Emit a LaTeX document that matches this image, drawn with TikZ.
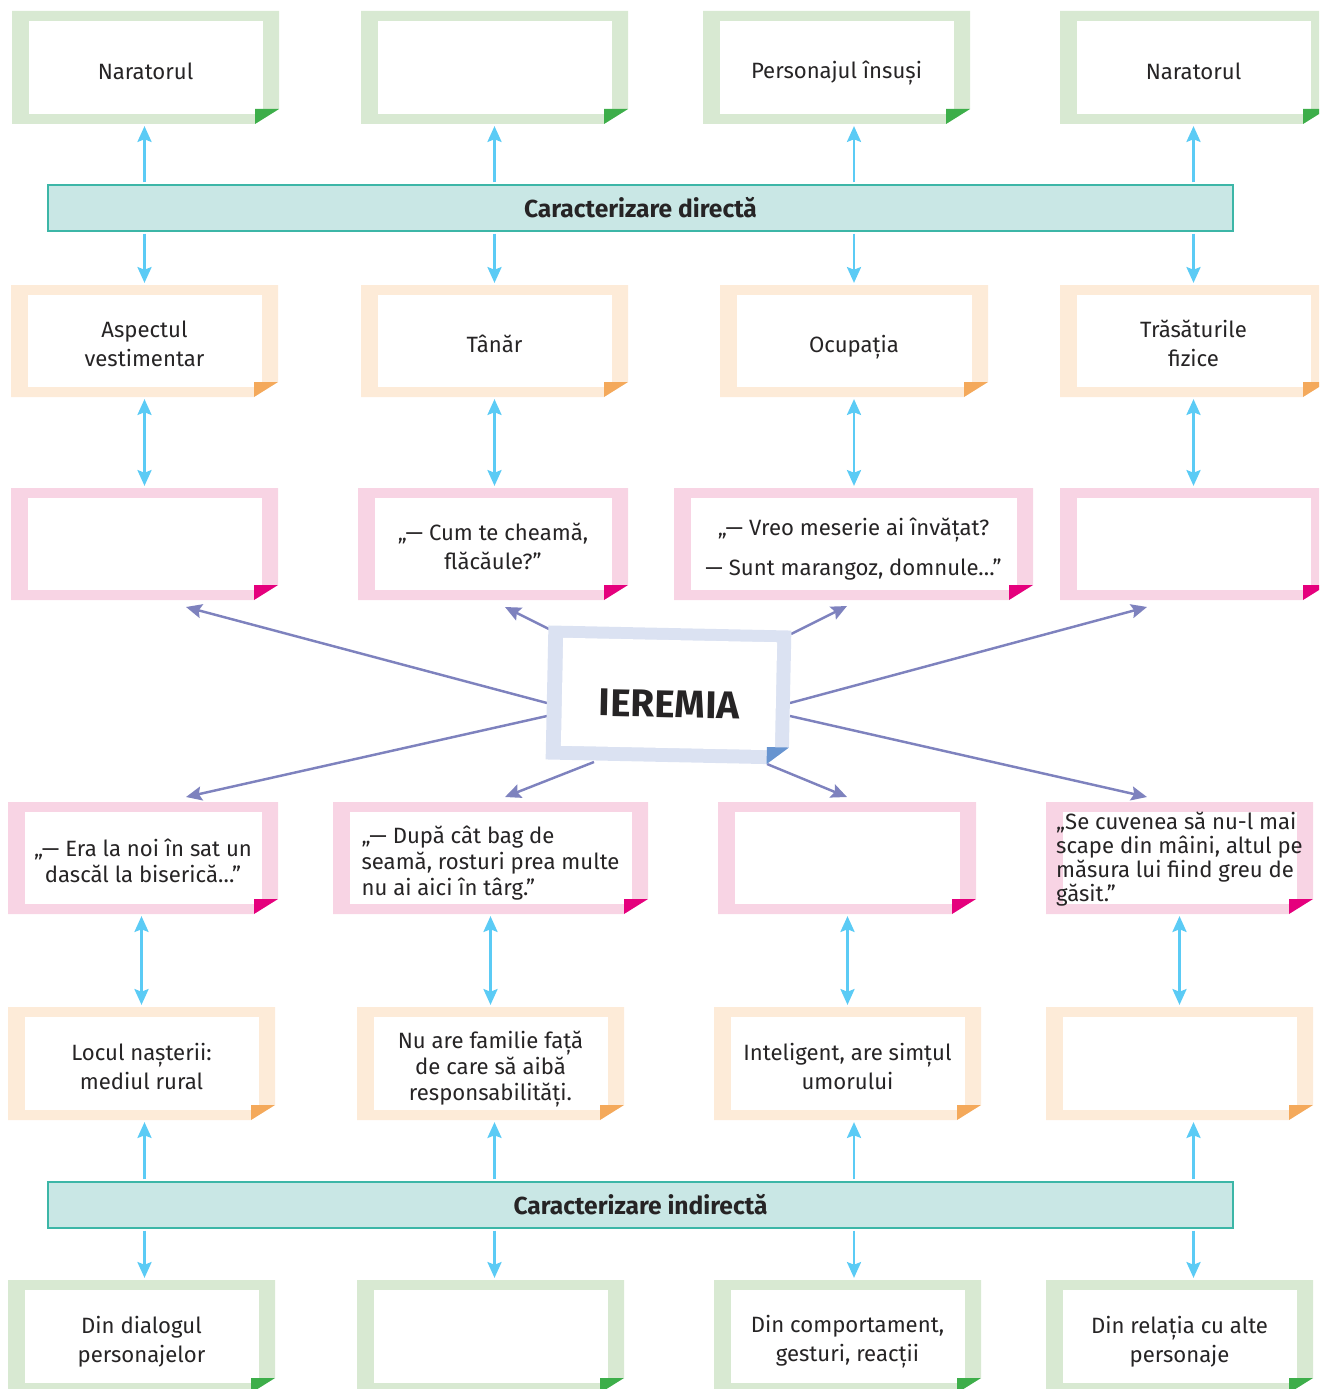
\documentclass[tikz,border=0pt]{standalone}
\usepackage{fontspec}
\setmainfont{Fira Sans}
\usetikzlibrary{arrows.meta}
\definecolor{grnlt}{HTML}{D8E9D2}
\definecolor{grndk}{HTML}{3DAE4A}
\definecolor{orglt}{HTML}{FDEBD8}
\definecolor{orgdk}{HTML}{F4A95B}
\definecolor{pnklt}{HTML}{F8D4E4}
\definecolor{pnkdk}{HTML}{E5007D}
\definecolor{blult}{HTML}{DBE2F2}
\definecolor{bludk}{HTML}{6794D0}
\definecolor{bandfill}{HTML}{C9E7E5}
\definecolor{bandline}{HTML}{3CB6A7}
\definecolor{skyline}{HTML}{5BCBF5}
\definecolor{lilac}{HTML}{7E82BE}
\definecolor{ink}{HTML}{262425}

\newcommand{\boxstrut}{\rule[-3.2pt]{0pt}{19.7pt}}

\tikzset{
    boxtext/.style={inner sep=0pt,align=center,text=ink,font=\fontsize{12.6}{16.4}\selectfont,
        execute at begin node=\boxstrut,execute at end node=\boxstrut},
    lines/.style={yshift=-3.1pt},
    band/.style={draw=bandline,line width=1pt,fill=bandfill,minimum width=23.7cm,
        minimum height=0.92cm,text=ink,font=\bfseries\fontsize{14}{16}\selectfont},
    skyarrow/.style={skyline,line width=1.5pt,shorten >=1pt,shorten <=1pt},
    lilacarrow/.style={lilac,line width=1.4pt,->},
}

% #2 name, (#3,#4) top left, (#5,#6) bottom right, #7 colour, #8 text
\newcommand{\notebox}[8][]{%
    \fill[#7lt] (#3,#4) -- (#5,#4) -- (#5,#6-15) -- (#5-24,#6) -- (#3,#6) -- cycle;
    \fill[white] (#3+17,#4+10) rectangle (#5-16,#6-10);
    \fill[#7dk] (#5-24,#6-15) -- (#5,#6-15) -- (#5-24,#6) -- cycle;
    \node[inner sep=0pt,minimum width={(#5-#3)*0.02cm},minimum height={(#6-#4)*0.02cm},
        label={[boxtext,#1]center:{#8}}] (#2) at ({(#3+#5)/2},{(#4+#6)/2}) {};
}

\begin{document}
\begin{tikzpicture}[
    x=0.02cm,y=-0.02cm,
    >={Stealth[length=9pt,width=8pt,inset=1.5pt]}
]
    \useasboundingbox (0,0) rectangle (1319,1389);
    \clip (0,0) rectangle (1319,1389);

    \notebox{r1a}{12}{11}{279}{124}{grn}{Naratorul}
    \notebox{r1b}{361}{11}{628}{124}{grn}{}
    \notebox{r1c}{703}{11}{970}{124}{grn}{Personajul însuși}
    \notebox{r1d}{1060}{11}{1327}{124}{grn}{Naratorul}

    \notebox[lines]{r2a}{11}{285}{278}{397}{org}{Aspectul\\vestimentar}
    \notebox{r2b}{361}{285}{628}{397}{org}{Tânăr}
    \notebox{r2c}{720}{285}{988}{397}{org}{Ocupația}
    \notebox[lines]{r2d}{1060}{285}{1327}{397}{org}{Trăsăturile\\fizice}

    \notebox{r3a}{11}{488}{278}{600}{pnk}{}
    \notebox[lines]{r3b}{358}{488}{628}{600}{pnk}{„— Cum te cheamă,\\flăcăule?”}
    \notebox[lines]{r3c}{674}{488}{1033}{600}{pnk}{„— Vreo meserie ai învățat?\\[6pt]— Sunt marangoz, domnule…”}
    \notebox{r3d}{1060}{488}{1327}{600}{pnk}{}

    \notebox[lines,font=\fontsize{12.6}{15.2}\selectfont]{r4a}{8}{802}{278}{914}{pnk}{„— Era la noi în sat un\\dascăl la biserică…”}
    \notebox[lines,align=left,font=\fontsize{12.6}{15}\selectfont]{r4b}{333}{802}{648}{914}{pnk}{„— După cât bag de\\seamă, rosturi prea multe\\nu ai aici în târg.”}
    \notebox{r4c}{718}{802}{976}{914}{pnk}{}
    \notebox[yshift=-1pt,align=left,font=\fontsize{12.6}{13.6}\selectfont]{r4d}{1046}{802}{1313}{914}{pnk}{„Se cuvenea să nu-l mai\\scape din mâini, altul pe\\măsura lui fiind greu de\\găsit.”}

    \notebox[lines]{r5a}{8}{1007}{275}{1120}{org}{Locul nașterii:\\mediul rural}
    \notebox[lines,font=\fontsize{12.6}{14.8}\selectfont]{r5b}{357}{1007}{624}{1120}{org}{Nu are familie față\\de care să aibă\\responsabilități.}
    \notebox[lines]{r5c}{714}{1007}{981}{1120}{org}{Inteligent, are simțul\\umorului}
    \notebox{r5d}{1046}{1007}{1313}{1120}{org}{}

    \notebox[lines]{r6a}{8}{1280}{275}{1393}{grn}{Din dialogul\\personajelor}
    \notebox{r6b}{357}{1280}{624}{1393}{grn}{}
    \notebox[lines]{r6c}{714}{1280}{981}{1393}{grn}{Din comportament,\\gesturi, reacții}
    \notebox[lines]{r6d}{1046}{1280}{1313}{1393}{grn}{Din relația cu alte\\personaje}

    \node[band] (dir) at (640.5,208) {Caracterizare directă};
    \node[band] (ind) at (640.5,1205) {Caracterizare indirectă};

    \foreach \c in {a,b,c,d} {
        \draw[skyarrow,->] (dir.north -| r2\c) -- (r2\c |- r1\c.south);
        \draw[skyarrow,->] (dir.south -| r2\c) -- (r2\c.north);
        \draw[skyarrow,<->] (r2\c.south) -- (r2\c.south |- r3\c.north);
        \draw[skyarrow,<->] (r5\c.north) -- (r5\c.north |- r4\c.south);
        \draw[skyarrow,->] (ind.north -| r2\c) -- (r2\c |- r5\c.south);
        \draw[skyarrow,->] (ind.south -| r2\c) -- (r2\c |- r6\c.north);
    }

    \foreach \n/\x/\y in {s1/547/703,t1/186/607,s2/549/629,t2/505/607,
        s3/791/634,t3/847/606,s4/790/703,t4/1147/607,
        s5/547/716,t5/186/797,s6/594/762,t6/505/797,
        s7/767/764,t7/847/797,s8/790/716,t8/1147/797}
        \coordinate (\n) at (\x,\y);
    \foreach \i in {1,...,8}
        \draw[lilacarrow] (s\i) -- (t\i);

    \begin{scope}[shift={(668.5,695)},rotate=-1.2]
        \fill[blult] (-121.5,-67) -- (121.5,-67) -- (121.5,50) -- (99.5,67) -- (-121.5,67) -- cycle;
        \fill[white] (-106.5,-55) rectangle (107.5,53);
        \fill[bludk] (99.5,50) -- (121.5,50) -- (99.5,67) -- cycle;
        \node[text=ink,inner sep=0pt,font=\bfseries\fontsize{22}{26}\selectfont,rotate=-1.2] (ier) at (1,9) {IEREMIA};
    \end{scope}
\end{tikzpicture}
\end{document}
